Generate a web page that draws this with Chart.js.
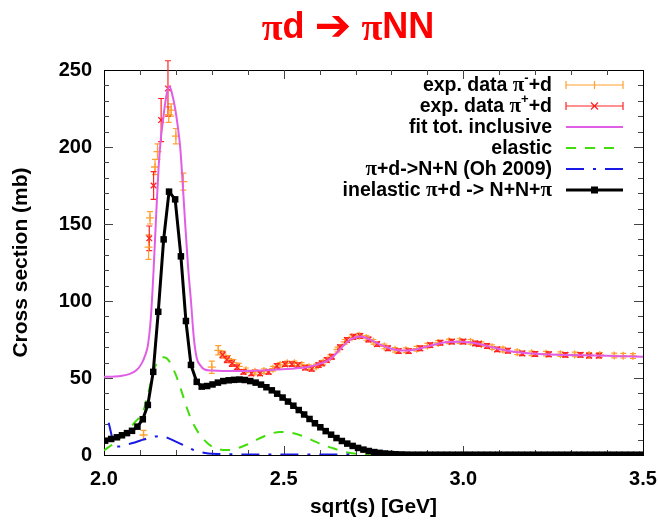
<!DOCTYPE html>
<html><head><meta charset="utf-8">
<script src="https://cdn.jsdelivr.net/npm/chart.js@4"></script>
<style>html,body{margin:0;padding:0;background:#fff}</style>
</head><body>
<canvas id="c" width="658" height="520" style="width:658px;height:520px;display:block"></canvas>
<script>
// ---------- data ----------
const xTicks = [2.0, 2.5, 3.0, 3.5];
const yTicks = [0, 50, 100, 150, 200, 250];

// exp. data pi- + d (orange)
const piMinusX = [2.110, 2.124, 2.128, 2.142, 2.149, 2.180, 2.187, 2.200, 2.221,
  2.300, 2.318, 2.330, 2.345, 2.360, 2.375, 2.395, 2.420, 2.445, 2.470, 2.490, 2.510, 2.530, 2.550, 2.570, 2.590,
  2.610, 2.630, 2.650, 2.670, 2.690, 2.710, 2.730, 2.750, 2.780, 2.810, 2.840, 2.870, 2.900, 2.930, 2.960, 2.990,
  3.020, 3.050, 3.080, 3.110, 3.150, 3.190, 3.230, 3.270, 3.310, 3.350, 3.380, 3.420, 3.445, 3.472];
const piMinusY = [13, 135, 154, 187, 197, 221, 224, 207, 177.5,
  57, 68, 65.5, 62.5, 60, 57.5, 55, 54, 54.5, 56, 58.5, 59.5, 59.5, 58.5, 57, 57.5,
  60, 63.5, 68.5, 73.5, 76.5, 77.5, 76, 73.5, 70.5, 68.3, 68, 69, 71, 72.8, 73.8, 74,
  73.5, 72, 70, 68.5, 66.7, 66, 65.8, 65.5, 65.3, 65, 65, 64.6, 64.5, 64.3];
const piMinusErr = [3, 8, 4, 5, 5, 5, 4, 5, 5.5,
  4, 3, 2, 2, 2, 2, 1.5, 1.5, 1.5, 1.5, 1.5, 1.5, 1.5, 1.5, 1.5, 1.5,
  1.5, 1.5, 1.5, 1.5, 1.5, 1.5, 1.5, 1.5, 1.5, 1.5, 1.5, 1.5, 1.5, 1.5, 1.5, 1.5,
  1.5, 1.5, 1.5, 1.5, 1.5, 1.5, 1.5, 1.5, 1.5, 1.5, 1.5, 1.5, 1.5, 1.5];

// exp. data pi+ + d (red)
const piPlusX = [2.126, 2.138, 2.159, 2.178,
  2.330, 2.342, 2.356, 2.370, 2.388, 2.410, 2.434, 2.458, 2.481, 2.504, 2.523, 2.540, 2.560, 2.578, 2.597,
  2.606, 2.620, 2.634, 2.657, 2.676, 2.694, 2.713, 2.736, 2.760, 2.790, 2.820, 2.848, 2.880, 2.908, 2.936, 2.968,
  3.000, 3.033, 3.043, 3.066, 3.094, 3.124, 3.164, 3.200, 3.238, 3.284, 3.326, 3.350, 3.377];
const piPlusY = [140.7, 175, 217.5, 238,
  65, 62, 59.5, 57, 54, 53, 53, 54, 57.8, 59, 59, 58.4, 56.7, 56, 58.4,
  59.5, 61.7, 63.8, 70, 74.7, 76.8, 77.3, 75, 72, 69.3, 67.5, 67.5, 69.3, 71.4, 72.9, 73.6,
  73.6, 72.5, 72, 70.8, 68.6, 67.7, 66, 65.6, 65.4, 65, 65, 64.5, 64.5];
const piPlusErr = [8, 9, 14, 18,
  2, 2, 2, 1.5, 1.5, 1.5, 1.5, 1.5, 1.5, 1.5, 1.5, 1.5, 1.5, 1.5, 1.5,
  1.5, 1.5, 1.5, 1.5, 1.5, 1.5, 1.5, 1.5, 1.5, 1.5, 1.5, 1.5, 1.5, 1.5, 1.5, 1.5,
  1.5, 1.5, 1.5, 1.5, 1.5, 1.5, 1.5, 1.5, 1.5, 1.5, 1.5, 1.5, 1.5];

// fit tot. inclusive (violet)
const fitX = [2.0, 2.03, 2.05, 2.07, 2.09, 2.105, 2.115, 2.122, 2.13, 2.138, 2.145, 2.152, 2.158, 2.164, 2.17, 2.176, 2.182,
  2.19, 2.198, 2.205, 2.212, 2.218, 2.226, 2.234, 2.242, 2.25, 2.258, 2.267, 2.28, 2.3, 2.33, 2.38, 2.43, 2.48, 2.53,
  2.57, 2.60, 2.62, 2.64, 2.66, 2.68, 2.70, 2.715, 2.73, 2.75, 2.77, 2.79, 2.81, 2.835, 2.86, 2.88, 2.90, 2.93, 2.96,
  2.99, 3.02, 3.05, 3.08, 3.11, 3.14, 3.18, 3.22, 3.28, 3.34, 3.40, 3.45, 3.5];
const fitY = [50.8, 51, 51.5, 52.5, 55, 59.5, 65, 71, 88, 120, 155, 187, 205, 217, 228, 236, 239.5,
  234, 225, 214, 200, 180, 150, 122, 100, 76, 63, 58.5, 55.5, 54.8, 54.5, 54.5, 54.8, 55.5, 56.2,
  57.3, 59.2, 61, 64.5, 69.5, 74, 76.5, 77, 76, 73.8, 71.5, 69.6, 68.4, 67.8, 68.2, 69.2, 70.5, 72.3, 73.3,
  73.5, 73, 71.8, 70, 68.3, 67, 66, 65.5, 65, 64.7, 64.4, 64.1, 63.8];

// elastic (green dashed)
const elX = [2.0, 2.03, 2.06, 2.085, 2.11, 2.125, 2.14, 2.155, 2.167, 2.18, 2.2, 2.215, 2.23, 2.245, 2.26, 2.28, 2.30,
  2.32, 2.34, 2.36, 2.38, 2.40, 2.43, 2.46, 2.49, 2.52, 2.55, 2.58, 2.61, 2.64, 2.67, 2.70, 2.73, 2.76];
const elY = [3, 8, 14.5, 21, 29, 42, 56, 62, 63.5, 61.5, 52, 42, 31, 22, 15.5, 9.5, 5.5,
  3.7, 3.2, 3.6, 5, 7, 10.5, 13.5, 15, 14.5, 12.5, 9.5, 6.5, 4.2, 2, 0.8, 0.3, 0];

// pi+d -> N+N (Oh 2009) (blue dash-dot)
const ohX = [2.013, 2.02, 2.028, 2.04, 2.06, 2.08, 2.10, 2.12, 2.14, 2.156, 2.17, 2.185, 2.2, 2.22, 2.25, 2.27, 2.29,
  2.32, 2.4, 2.5, 2.6, 2.7];
const ohY = [21, 14, 6, 5.5, 6.5, 7.8, 9.3, 10.8, 11.9, 12.3, 11.8, 10.3, 8.7, 6.5, 3.2, 1.8, 1,
  0.6, 0.4, 0.4, 0.4, 0.3];

// inelastic pi+d -> N+N+pi (black, squares)
const inelX = [2.003, 2.020, 2.036, 2.050, 2.064, 2.078, 2.093, 2.108, 2.122, 2.137, 2.151, 2.166, 2.181, 2.198, 2.214,
  2.228, 2.242, 2.258, 2.272, 2.287, 2.302, 2.317, 2.332, 2.347, 2.362, 2.377, 2.392, 2.407, 2.422, 2.437, 2.452,
  2.467, 2.482, 2.497, 2.512, 2.527, 2.542, 2.557, 2.572, 2.587, 2.602, 2.617, 2.632, 2.647, 2.662, 2.677, 2.692,
  2.707, 2.722, 2.737, 2.752, 2.767, 2.782, 2.797, 2.812, 2.827, 2.842, 2.858, 2.874, 2.890, 2.906, 2.922, 2.938,
  2.954, 2.970, 2.986, 3.002, 3.018, 3.034, 3.050, 3.066, 3.082, 3.098, 3.114, 3.130, 3.146, 3.162, 3.178, 3.194,
  3.210, 3.226, 3.242, 3.258, 3.274, 3.290, 3.306, 3.322, 3.338, 3.354, 3.370, 3.386, 3.402, 3.418, 3.434, 3.450,
  3.466, 3.482, 3.498];
const inelY = [9.3, 10.4, 11.5, 12.8, 14.2, 15.7, 18.4, 23.2, 32.5, 54, 93, 140, 171, 166, 129,
  87, 58.5, 47.5, 44.4, 44.8, 45.8, 47, 48, 48.5, 48.8, 49, 48.7, 48, 47, 45.7, 44,
  42, 39.8, 37.3, 34.7, 32, 29.2, 26.3, 23.4, 20.6, 18, 15.5, 13.2, 11, 9.1, 7.4, 5.9,
  4.6, 3.5, 2.6, 1.9, 1.4, 1.0, 0.7, 0.5, 0.35, 0.25, 0.2, 0.2, 0.2, 0.2, 0.2, 0.2,
  0.2, 0.2, 0.2, 0.2, 0.2, 0.2, 0.2, 0.2, 0.2, 0.2, 0.2, 0.2, 0.2, 0.2, 0.2, 0.2,
  0.2, 0.2, 0.2, 0.2, 0.2, 0.2, 0.2, 0.2, 0.2, 0.2, 0.2, 0.2, 0.2, 0.2, 0.2, 0.2,
  0.2, 0.2, 0.2];

// ---------- styling ----------
const FONT = '"Liberation Sans", Arial, Helvetica, sans-serif';
const SERIF = '"Liberation Serif", "Times New Roman", serif';
const C_ORANGE = '#ffa030', C_RED = '#ff2424', C_VIOLET = '#e05ee6', C_GREEN = '#44dd0c', C_BLUE = '#1a1ae6';
const pts = (xs, ys) => xs.map((x, i) => ({x: x, y: ys[i]}));

const errorSets = [
  {xs: piMinusX, ys: piMinusY, es: piMinusErr, color: C_ORANGE},
  {xs: piPlusX, ys: piPlusY, es: piPlusErr, color: C_RED}
];

function drawParts(ctx, parts, cx, cy, align) {
  let w = 0;
  parts.forEach(p => { ctx.font = p.f; w += ctx.measureText(p.t).width; });
  let x = align === 'center' ? cx - w / 2 : cx - w;
  parts.forEach(p => { ctx.font = p.f; ctx.fillText(p.t, x, cy + (p.dy || 0)); x += ctx.measureText(p.t).width; });
}

const framePlugin = {
  id: 'frameAndBars',
  beforeDatasetsDraw(chart) {
    const {ctx, chartArea: a, scales: {x, y}} = chart;
    ctx.save();
    ctx.strokeStyle = '#000'; ctx.lineWidth = 1;
    ctx.strokeRect(Math.round(a.left) + 0.5, Math.round(a.top) + 0.5, Math.round(a.right - a.left), Math.round(a.bottom - a.top));
    ctx.strokeStyle = '#444';
    ctx.beginPath();
    for (let k = 1; k < 15; k++) {
      const v = 2.0 + k * 0.1;
      const px = Math.round(x.getPixelForValue(v)) + 0.5;
      const L = (k % 5 === 0) ? 9 : 5;
      ctx.moveTo(px, a.bottom); ctx.lineTo(px, a.bottom - L);
      ctx.moveTo(px, a.top); ctx.lineTo(px, a.top + L);
    }
    for (let v = 10; v < 250; v += 10) {
      const py = Math.round(y.getPixelForValue(v)) + 0.5;
      const L = (v % 50 === 0) ? 9 : 5;
      ctx.moveTo(a.left, py); ctx.lineTo(a.left + L, py);
      ctx.moveTo(a.right, py); ctx.lineTo(a.right - L, py);
    }
    ctx.stroke();
    errorSets.forEach(s => {
      ctx.strokeStyle = s.color; ctx.lineWidth = 1.2;
      ctx.beginPath();
      s.xs.forEach((xv, i) => {
        const px = x.getPixelForValue(xv);
        const y1 = y.getPixelForValue(s.ys[i] - s.es[i]);
        const y2 = y.getPixelForValue(s.ys[i] + s.es[i]);
        ctx.moveTo(px, y1); ctx.lineTo(px, y2);
        ctx.moveTo(px - 3, y1); ctx.lineTo(px + 3, y1);
        ctx.moveTo(px - 3, y2); ctx.lineTo(px + 3, y2);
      });
      ctx.stroke();
    });
    ctx.restore();
  },
  afterDraw(chart) {
    const ctx = chart.ctx;
    ctx.save();
    ctx.textBaseline = 'middle'; ctx.textAlign = 'left';
    // title
    ctx.fillStyle = '#ff0000';
    const TB = 'bold 36px ' + FONT, TP = 'bold 38px ' + SERIF;
    drawParts(ctx, [
      {t: '\u03C0', f: TP, dy: 2}, {t: 'd ', f: TB},
      {t: '\u2794', f: 'bold 44px "DejaVu Sans", sans-serif', dy: 1},
      {t: ' ', f: TB}, {t: '\u03C0', f: TP, dy: 2}, {t: 'NN', f: TB}
    ], 348, 28, 'center');
    // legend
    const M = 'bold 19.5px ' + FONT, S = 'bold 13px ' + FONT, P = 'bold 21px ' + SERIF;
    const rows = [
      {parts: [{t: 'exp. data ', f: M}, {t: '\u03C0', f: P}, {t: '-', f: S, dy: -8}, {t: '+d', f: M}], kind: 'orange'},
      {parts: [{t: 'exp. data ', f: M}, {t: '\u03C0', f: P}, {t: '+', f: S, dy: -8}, {t: '+d', f: M}], kind: 'red'},
      {parts: [{t: 'fit tot. inclusive', f: M}], kind: 'violet'},
      {parts: [{t: 'elastic', f: M}], kind: 'green'},
      {parts: [{t: '\u03C0', f: P}, {t: '+d->N+N (Oh 2009)', f: M}], kind: 'blue'},
      {parts: [{t: 'inelastic ', f: M}, {t: '\u03C0', f: P}, {t: '+d -> N+N+', f: M}, {t: '\u03C0', f: P}], kind: 'black'}
    ];
    const right = 552, s0 = 566, s1 = 623;
    rows.forEach((r, i) => {
      const yy = 85 + i * 21;
      ctx.fillStyle = '#000';
      drawParts(ctx, r.parts, right, yy + 1, 'right');
      ctx.setLineDash([]);
      const mid = (s0 + s1) / 2;
      if (r.kind === 'orange' || r.kind === 'red') {
        ctx.strokeStyle = r.kind === 'orange' ? C_ORANGE : C_RED; ctx.lineWidth = 1.2;
        ctx.beginPath();
        ctx.moveTo(s0, yy); ctx.lineTo(s1, yy);
        ctx.moveTo(s0, yy - 4); ctx.lineTo(s0, yy + 4);
        ctx.moveTo(s1, yy - 4); ctx.lineTo(s1, yy + 4);
        if (r.kind === 'orange') { ctx.moveTo(mid, yy - 4); ctx.lineTo(mid, yy + 4); }
        else { ctx.moveTo(mid - 3.5, yy - 3.5); ctx.lineTo(mid + 3.5, yy + 3.5); ctx.moveTo(mid - 3.5, yy + 3.5); ctx.lineTo(mid + 3.5, yy - 3.5); }
        ctx.stroke();
      } else if (r.kind === 'violet') {
        ctx.strokeStyle = C_VIOLET; ctx.lineWidth = 2;
        ctx.beginPath(); ctx.moveTo(s0, yy); ctx.lineTo(s1, yy); ctx.stroke();
      } else if (r.kind === 'green') {
        ctx.strokeStyle = C_GREEN; ctx.lineWidth = 2; ctx.setLineDash([10, 9]);
        ctx.beginPath(); ctx.moveTo(s0, yy); ctx.lineTo(s1, yy); ctx.stroke();
      } else if (r.kind === 'blue') {
        ctx.strokeStyle = C_BLUE; ctx.lineWidth = 2; ctx.setLineDash([18, 9, 3, 9]);
        ctx.beginPath(); ctx.moveTo(s0, yy); ctx.lineTo(s1, yy); ctx.stroke();
      } else {
        ctx.strokeStyle = '#000'; ctx.lineWidth = 3;
        ctx.beginPath(); ctx.moveTo(s0, yy); ctx.lineTo(s1, yy); ctx.stroke();
        ctx.fillStyle = '#000'; ctx.fillRect(mid - 3.5, yy - 3.5, 7, 7);
      }
    });
    ctx.restore();
  }
};

new Chart(document.getElementById('c'), {
  type: 'scatter',
  data: {
    datasets: [
      {label: 'inelastic', data: pts(inelX, inelY), showLine: true, borderColor: '#000', backgroundColor: '#000',
       borderWidth: 3, pointStyle: 'rect', pointRadius: 4.6, pointBorderWidth: 0, order: 1},
      {label: 'Oh 2009', data: pts(ohX, ohY), showLine: true, borderColor: C_BLUE, borderWidth: 2,
       borderDash: [18, 9, 3, 9], pointRadius: 0, cubicInterpolationMode: 'monotone', order: 2},
      {label: 'elastic', data: pts(elX, elY), showLine: true, borderColor: C_GREEN, borderWidth: 2,
       borderDash: [10, 9], pointRadius: 0, cubicInterpolationMode: 'monotone', order: 3},
      {label: 'fit', data: pts(fitX, fitY), showLine: true, borderColor: C_VIOLET, borderWidth: 2,
       pointRadius: 0, cubicInterpolationMode: 'monotone', order: 4},
      {label: 'pi+ d', data: pts(piPlusX, piPlusY), showLine: false, borderColor: C_RED, backgroundColor: C_RED,
       pointStyle: 'crossRot', pointRadius: 4, pointBorderWidth: 1.3, order: 5},
      {label: 'pi- d', data: pts(piMinusX, piMinusY), showLine: false, borderColor: C_ORANGE, backgroundColor: C_ORANGE,
       pointStyle: 'cross', pointRadius: 4, pointBorderWidth: 1.3, order: 6}
    ]
  },
  options: {
    responsive: false, animation: false, devicePixelRatio: 1,
    layout: {padding: {left: 0, right: 15, top: 70, bottom: 0}},
    plugins: {legend: {display: false}, title: {display: false}, tooltip: {enabled: false}},
    scales: {
      x: {
        type: 'linear', min: 2.0, max: 3.5,
        afterBuildTicks: s => { s.ticks = xTicks.map(v => ({value: v})); },
        afterFit: s => { s.height = 65; s.paddingLeft = 0; s.paddingRight = 0; },
        ticks: {callback: v => v.toFixed(1), color: '#000', padding: 12, font: {family: FONT, weight: 'bold', size: 20}},
        grid: {display: false, drawTicks: false, tickLength: 0},
        border: {display: false},
        title: {display: true, text: 'sqrt(s) [GeV]', color: '#000', font: {family: FONT, weight: 'bold', size: 21}, padding: {top: 2, bottom: 0}}
      },
      y: {
        type: 'linear', min: 0, max: 250,
        afterBuildTicks: s => { s.ticks = yTicks.map(v => ({value: v})); },
        afterFit: s => { s.width = 104; s.paddingTop = 0; s.paddingBottom = 0; },
        ticks: {color: '#000', padding: 12, font: {family: FONT, weight: 'bold', size: 20}},
        grid: {display: false, drawTicks: false, tickLength: 0},
        border: {display: false},
        title: {display: true, text: 'Cross section (mb)', color: '#000', font: {family: FONT, weight: 'bold', size: 21}, padding: {top: 9, bottom: 0}}
      }
    }
  },
  plugins: [framePlugin]
});
</script>
</body></html>
